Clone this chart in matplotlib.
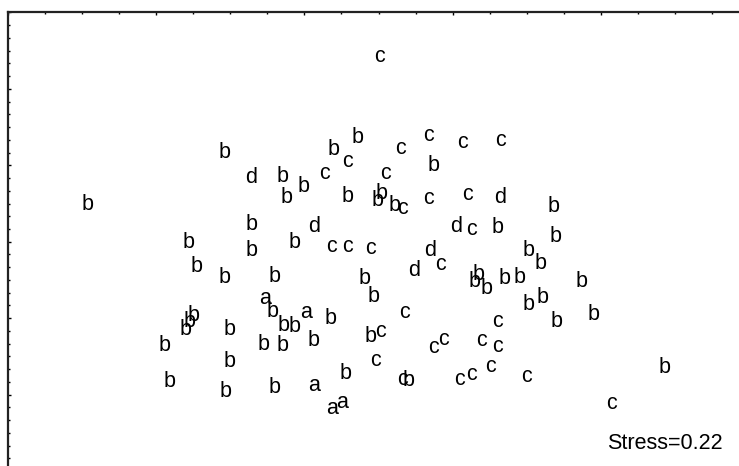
import numpy as np
import matplotlib
matplotlib.use("Agg")
import matplotlib.pyplot as plt

# NMDS ordination scores, one array per group label
a_x = [-1.045, -0.64, -0.557, -0.375, -0.277]
a_y = [-0.645, -0.775, -1.51, -1.735, -1.68]

b_x = [-2.827, -1.45, -0.87, -0.667, -0.833, -0.36, -0.127, 0.64, -0.225, 0.08,
       0.12, 0.243, -1.185, -1.81, -1.183, -0.757, -1.733, -1.457, -0.95, -0.05,
       0.04, -0.977, -0.86, -0.75, -0.39, -1.767, -1.807, -1.84, -2.05, -1.407,
       -1.067, -0.877, -0.567, -1.407, -2.0, -1.44, -0.95, -0.243, 0.01, 0.39,
       1.833, 1.277, 1.853, 1.083, 1.048, 1.167, 1.35, 1.493, 1.59, 1.707,
       2.117, 1.585, 1.723, 1.87, 2.233, 2.95]
b_y = [0.295, 0.82, 0.583, 0.483, 0.37, 0.85, 0.967, 0.69, 0.38, 0.335,
       0.408, 0.29, 0.10, -0.083, -0.155, -0.083, -0.317, -0.433, -0.417, -0.44,
       -0.617, -0.773, -0.907, -0.923, -0.84, -0.807, -0.87, -0.95, -1.11, -0.95,
       -1.10, -1.11, -1.057, -1.267, -1.467, -1.567, -1.533, -1.39, -1.017, -1.46,
       0.283, 0.067, -0.017, -0.40, -0.467, -0.54, -0.44, -0.43, -0.165, -0.293,
       -0.473, -0.695, -0.627, -0.87, -0.797, -1.327]

c_x = [0.09, -0.455, -0.223, 0.307, 0.15, 0.583, 0.923, 1.308, 0.323, 0.58,
       0.977, -0.39, -0.227, 0.0, 0.70, 1.013, 0.10, 0.34, 0.055, 0.32,
       0.633, 0.735, 1.117, 1.277, 1.273, 1.207, 0.893, 1.017, 1.567, 2.415]
c_y = [1.783, 0.613, 0.73, 0.86, 0.61, 0.99, 0.923, 0.945, 0.263, 0.363,
       0.40, -0.117, -0.122, -0.14, -0.295, 0.053, -0.973, -0.777, -1.255, -1.45,
       -1.133, -1.05, -1.06, -1.117, -0.867, -1.317, -1.45, -1.40, -1.417, -1.69]

d_x = [-1.193, -0.557, 1.298, 0.857, 0.60, 0.44]
d_y = [0.567, 0.083, 0.37, 0.083, -0.165, -0.355]

stress = 0.22

groups = [("a", a_x, a_y), ("b", b_x, b_y), ("c", c_x, c_y), ("d", d_x, d_y)]

W, H = 739, 466
fig = plt.figure(figsize=(W / 100, H / 100), dpi=100)
# axes runs off the right and bottom edge of the picture
ax = fig.add_axes([7.5 / W, 0, (W - 7.5) / W, (H - 12.4) / H])

x0, x1 = -3.625, 3.69
y0, y1 = -2.26, 2.276
ax.set_xlim(x0, x1)
ax.set_ylim(y0, y1)

for lab, xs, ys in groups:
    for x, y in zip(xs, ys):
        ax.text(x, y, lab, ha="center", va="baseline", fontsize=15.5,
                family="Liberation Sans", color="black")

ax.text(0.82, 0.037, "Stress=%.2f" % stress, transform=ax.transAxes,
        ha="left", va="baseline", fontsize=15.5, family="Liberation Sans")

# tick marks on top and left only
xt = x0 + 0.371 * np.arange(0, 20)
yt = y1 - 0.1274 * np.arange(0, 36)
ax.set_xticks(xt[::4])
ax.set_xticks(xt, minor=True)
ax.set_yticks(yt[::6])
ax.set_yticks(yt, minor=True)
ax.xaxis.tick_top()
ax.tick_params(axis="both", which="both", direction="in", labeltop=False,
               labelleft=False, labelbottom=False, bottom=False, right=False,
               width=1, color="black")
ax.tick_params(which="major", length=2.4)
ax.tick_params(which="minor", length=1.6)

for s in ["right", "bottom"]:
    ax.spines[s].set_visible(False)
for s in ["top", "left"]:
    ax.spines[s].set_linewidth(1.6)
    ax.spines[s].set_color("#222222")

fig.savefig("out.png", dpi=100)
